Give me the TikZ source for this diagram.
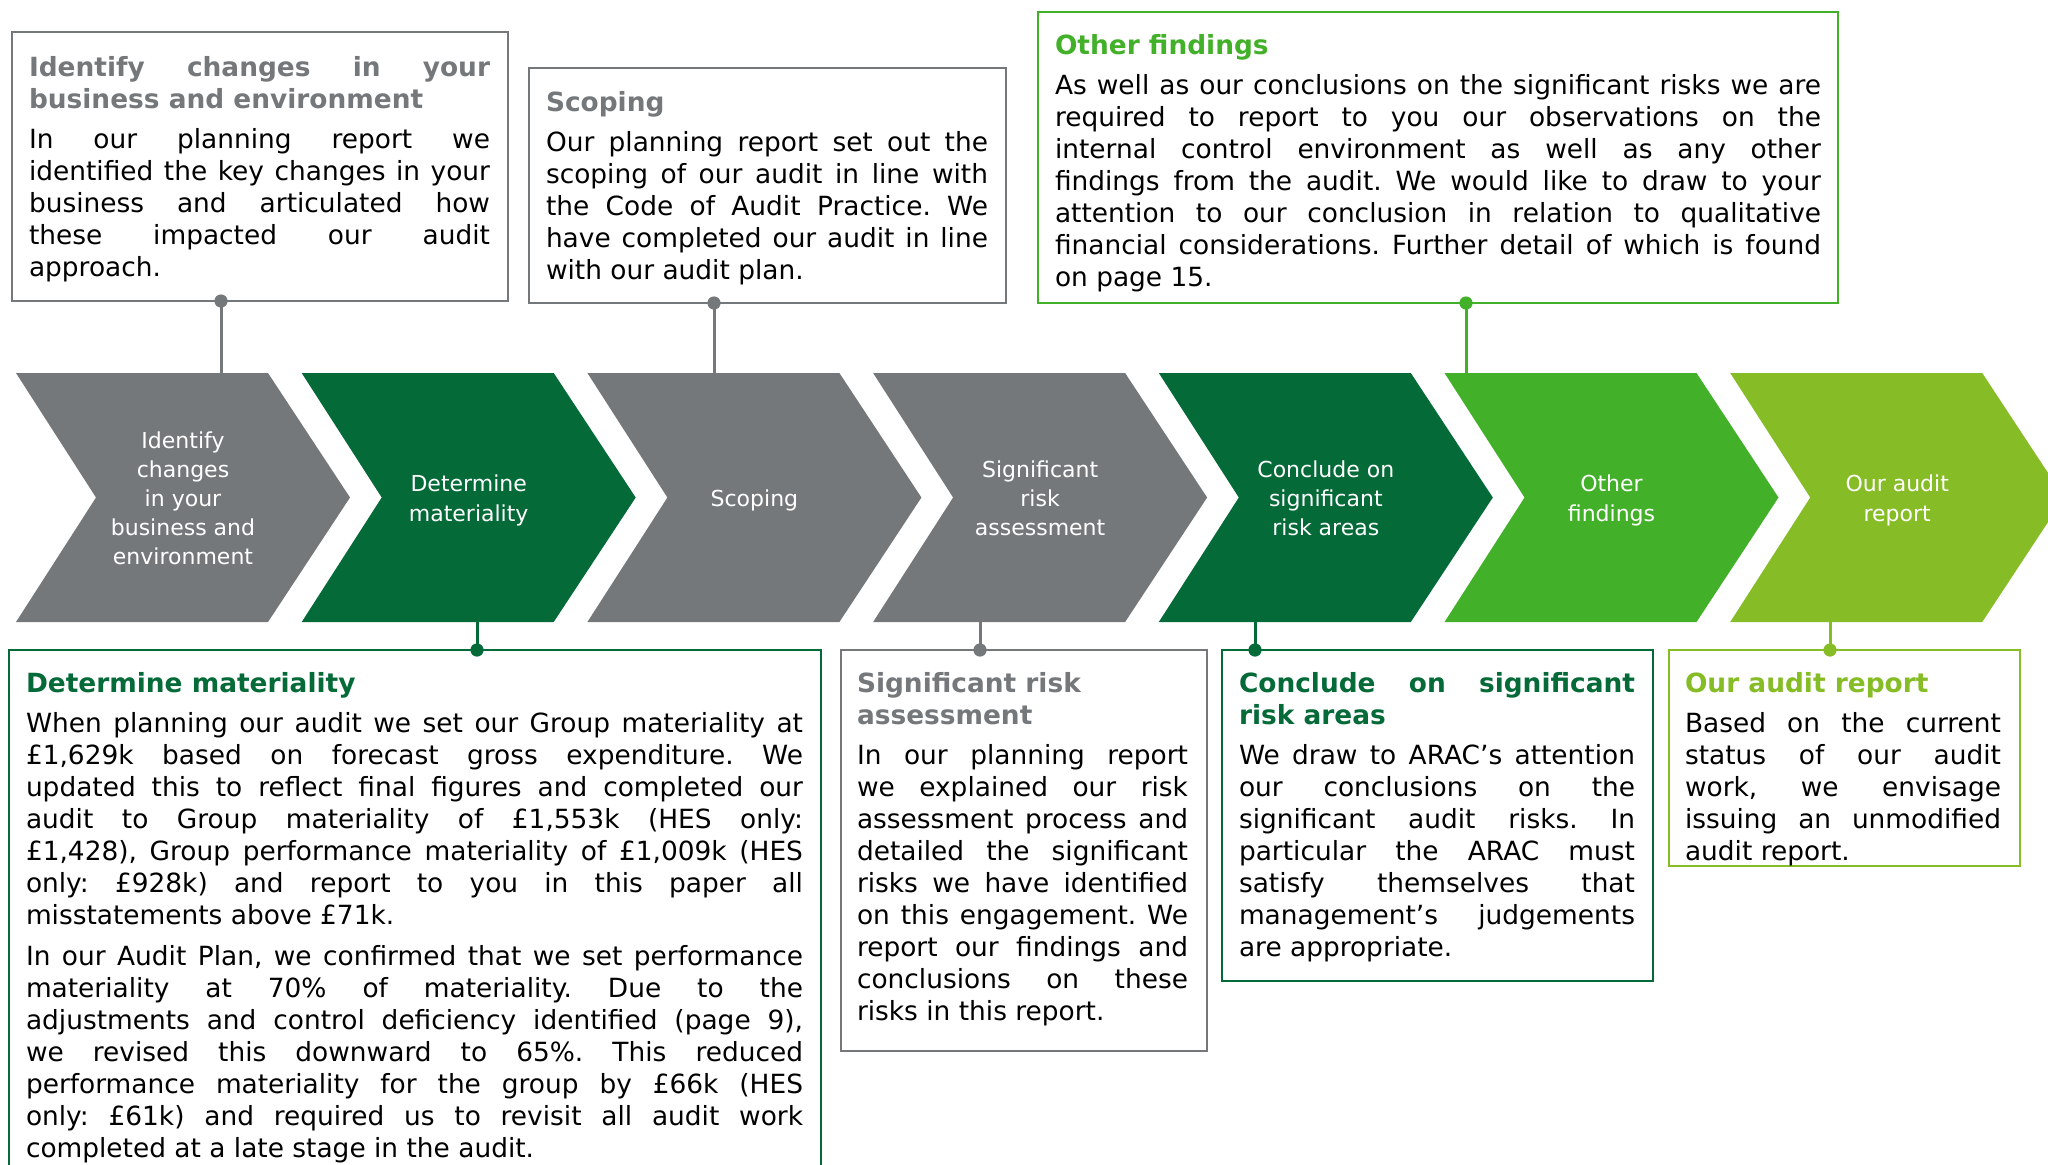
\documentclass[tikz,border=0pt]{standalone}
\usepackage{fontspec}
\setmainfont{DejaVu Sans}

\definecolor{cgray}{HTML}{75787B}
\definecolor{cdark}{HTML}{046A38}
\definecolor{cgreen}{HTML}{43B02A}
\definecolor{clime}{HTML}{86BC25}

% body copy of the panels: justified, no hyphenation, lines broken by hand
\newcommand{\copysize}{\fontsize{13.2}{16}\selectfont\frenchspacing\tolerance=10000\hbadness=10000\hyphenpenalty=10000\exhyphenpenalty=10000}
\newcommand{\headgap}{\par\vspace{4pt}}
\newcommand{\paragap}{\par\vspace{4.5pt}}
% stage label: strutted rows, lowered a little while keeping the box size used for centring
\newcommand{\stagelabel}[1]{\raisebox{-1.6pt}[\height][\depth]{\begin{tabular}{@{}c@{}}#1\end{tabular}}}

\tikzset{
  chev/.style={minimum width=167pt, minimum height=124.5pt, inner sep=0pt, outer sep=0pt,
    text=white, font=\fontsize{11}{14.6}\selectfont,
    path picture={\fill[#1] (path picture bounding box.north west)
      -- ([xshift=126pt]path picture bounding box.north west)
      -- (path picture bounding box.east)
      -- ([xshift=126pt]path picture bounding box.south west)
      -- (path picture bounding box.south west)
      -- ([xshift=40pt]path picture bounding box.west) -- cycle;}},
  panel/.style={draw=#1, line width=1.3pt, anchor=north west, inner sep=0pt, outer sep=0pt},
  txt/.style={anchor=north west, inner sep=0pt, outer sep=0pt, text width=#1, align=justify, font=\copysize},
  tie/.style={draw=#1, line width=1.5pt},
  dotr/.style={fill=#1},
}

\begin{document}
\begin{tikzpicture}[x=0.5pt, y=-0.5pt]
\fill[white] (0,0) rectangle (2048,1164);
\useasboundingbox (0,0) rectangle (2048,1164);
\clip (0,0) rectangle (2048,1164);

% process chevrons
\node[chev=cgray]  (s1) at (183.0,497.5)  {\stagelabel{Identify\\changes\\in your\\business and\\environment}};
\node[chev=cdark]  (s2) at (468.7,497.5)  {\stagelabel{Determine\\materiality}};
\node[chev=cgray]  (s3) at (754.4,497.5)  {\stagelabel{Scoping}};
\node[chev=cgray]  (s4) at (1040.1,497.5) {\stagelabel{Significant\\risk\\assessment}};
\node[chev=cdark]  (s5) at (1325.8,497.5) {\stagelabel{Conclude on\\significant\\risk areas}};
\node[chev=cgreen] (s6) at (1611.5,497.5) {\stagelabel{Other\\findings}};
\node[chev=clime]  (s7) at (1897.2,497.5) {\stagelabel{Our audit\\report}};

% panel frames
\node[panel=cgray,  minimum width=248pt,   minimum height=134.5pt] (bA) at (12,32) {};
\node[panel=cgray,  minimum width=238.5pt, minimum height=117.5pt] (bB) at (529,68) {};
\node[panel=cgreen, minimum width=400pt,   minimum height=145.5pt] (bC) at (1038,12) {};
\node[panel=cdark,  minimum width=406pt,   minimum height=275pt]   (bD) at (9,650) {};
\node[panel=cgray,  minimum width=183pt,   minimum height=200.5pt] (bE) at (841,650) {};
\node[panel=cdark,  minimum width=215.5pt, minimum height=165.5pt] (bF) at (1222,650) {};
\node[panel=clime,  minimum width=175.5pt, minimum height=108pt]   (bG) at (1669,650) {};

% panel texts
\node[txt=230.5pt] (tA) at (29,56) {{\color{cgray}\bfseries Identify changes in your\linebreak business and environment}\headgap
In our planning report we\linebreak identified the key changes in your\linebreak business and articulated how\linebreak these impacted our audit\linebreak approach.};

\node[txt=221pt] (tB) at (546,91) {{\color{cgray}\bfseries Scoping}\headgap
Our planning report set out the\linebreak scoping of our audit in line with\linebreak the Code of Audit Practice. We\linebreak have completed our audit in line\linebreak with our audit plan.};

\node[txt=383pt] (tC) at (1055,34) {{\color{cgreen}\bfseries Other findings}\headgap
As well as our conclusions on the significant risks we are\linebreak required to report to you our observations on the\linebreak internal control environment as well as any other\linebreak findings from the audit. We would like to draw to your\linebreak attention to our conclusion in relation to qualitative\linebreak financial considerations. Further detail of which is found\linebreak on page 15.};

\node[txt=388.5pt] (tD) at (26,672) {{\color{cdark}\bfseries Determine materiality}\headgap
When planning our audit we set our Group materiality at\linebreak \pounds1,629k based on forecast gross expenditure. We\linebreak updated this to reflect final figures and completed our\linebreak audit to Group materiality of \pounds1,553k (HES only:\linebreak \pounds1,428), Group performance materiality of \pounds1,009k (HES\linebreak only: \pounds928k) and report to you in this paper all\linebreak misstatements above \pounds71k.\paragap
In our Audit Plan, we confirmed that we set performance\linebreak materiality at 70\% of materiality. Due to the\linebreak adjustments and control deficiency identified (page 9),\linebreak we revised this downward to 65\%. This reduced\linebreak performance materiality for the group by \pounds66k (HES\linebreak only: \pounds61k) and required us to revisit all audit work\linebreak completed at a late stage in the audit.};

\node[txt=165.5pt] (tE) at (857,672) {{\color{cgray}\bfseries Significant risk\newline assessment}\headgap
In our planning report\linebreak we explained our risk\linebreak assessment process and\linebreak detailed the significant\linebreak risks we have identified\linebreak on this engagement. We\linebreak report our findings and\linebreak conclusions on these\linebreak risks in this report.};

\node[txt=198pt] (tF) at (1239,672) {{\color{cdark}\bfseries Conclude on significant\linebreak risk areas}\headgap
We draw to ARAC’s attention\linebreak our conclusions on the\linebreak significant audit risks. In\linebreak particular the ARAC must\linebreak satisfy themselves that\linebreak management’s judgements\linebreak are appropriate.};

\node[txt=158pt] (tG) at (1685,672) {{\color{clime}\bfseries Our audit report}\headgap
Based on the current\linebreak status of our audit\linebreak work, we envisage\linebreak issuing an unmodified\linebreak audit report.};

% connector columns
\coordinate (xA) at (221,0);
\coordinate (xB) at (714,0);
\coordinate (xC) at (1466,0);
\coordinate (xD) at (477,0);
\coordinate (xE) at (980,0);
\coordinate (xF) at (1255,0);
\coordinate (xG) at (1830,0);

% connectors from panels to chevrons
\draw[tie=cgray]  (bA.south -| xA) -- (s1.north -| xA);
\draw[tie=cgray]  (bB.south -| xB) -- (s3.north -| xB);
\draw[tie=cgreen] (bC.south -| xC) -- (s6.north -| xC);
\draw[tie=cdark]  (s2.south -| xD) -- (bD.north -| xD);
\draw[tie=cgray]  (s4.south -| xE) -- (bE.north -| xE);
\draw[tie=cdark]  (s5.south -| xF) -- (bF.north -| xF);
\draw[tie=clime]  (s7.south -| xG) -- (bG.north -| xG);

\fill[dotr=cgray]  (bA.south -| xA) circle (3.3pt);
\fill[dotr=cgray]  (bB.south -| xB) circle (3.3pt);
\fill[dotr=cgreen] (bC.south -| xC) circle (3.3pt);
\fill[dotr=cdark]  (bD.north -| xD) circle (3.3pt);
\fill[dotr=cgray]  (bE.north -| xE) circle (3.3pt);
\fill[dotr=cdark]  (bF.north -| xF) circle (3.3pt);
\fill[dotr=clime]  (bG.north -| xG) circle (3.3pt);
\end{tikzpicture}
\end{document}
